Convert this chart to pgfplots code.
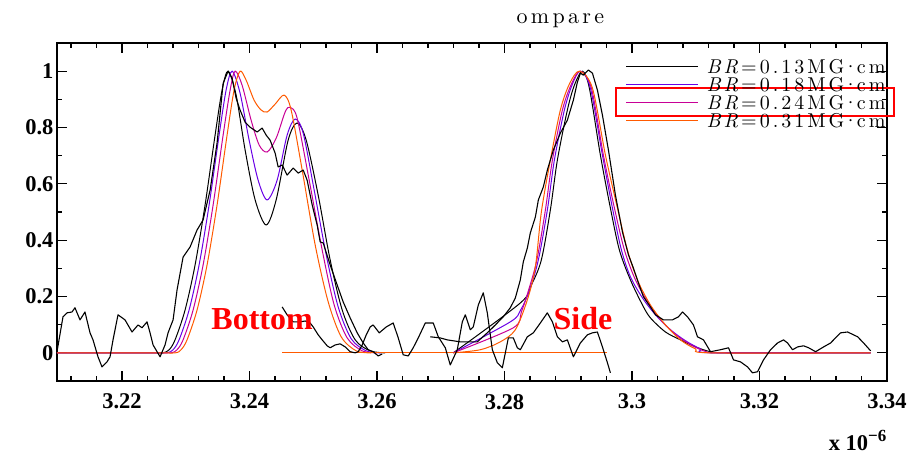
\documentclass[border=0pt]{standalone}
\usepackage{fontspec}
\setmainfont{Liberation Serif}
\newfontfamily\lmsp{lmroman10-regular.otf}[LetterSpace=15, ItalicFont=lmroman10-italic.otf]
\usepackage{pgfplots}
\pgfplotsset{compat=1.18}
\definecolor{cpurple}{RGB}{105,0,230}
\definecolor{cmagenta}{RGB}{200,0,150}
\definecolor{corange}{RGB}{255,90,0}
\newcommand{\mgcm}{MG\kern-1.5pt·\kern-1.5pt cm}
\begin{document}
\begin{tikzpicture}
\begin{axis}[
  scale only axis, width=830pt, height=338pt,
  xmin=3.2098, xmax=3.34, ymin=-0.1, ymax=1.1,
  clip=false,
  axis line style={line width=2pt},
  tick align=inside, major tick length=10pt, minor tick length=5pt,
  every tick/.style={black, line width=1.3pt},
  xtick={3.22,3.24,3.26,3.28,3.30,3.32,3.34},
  xticklabels={3.22,3.24,3.26,3.28,3.3,3.32,3.34},
  minor xtick={3.212,3.216,3.224,3.228,3.232,3.236,3.244,3.248,3.252,3.256,3.264,3.268,3.272,3.276,3.284,3.288,3.292,3.296,3.304,3.308,3.312,3.316,3.324,3.328,3.332,3.336},
  ytick={0,0.2,0.4,0.6,0.8,1},
  minor ytick={0.1,0.3,0.5,0.7,0.9},
  scaled x ticks=false,
  /pgf/number format/assume math mode=true,
  tick label style={font=\fontsize{22.5}{22.5}\selectfont\bfseries},
  xticklabel style={yshift=-9.5pt},
  legend style={at={(axis cs:3.29896,1.0426)}, anchor=north west, draw=none, fill=none,
    inner sep=0pt, row sep=2.4pt, column sep=8pt,
    font=\lmsp\fontsize{20}{20}\selectfont, nodes={inner sep=0pt, anchor=base west}},
  legend cell align=left,
  legend image code/.code={\draw[#1] (0pt,6.8pt) -- (72pt,6.8pt);},
]
% bottom models
\addplot[black, line width=1pt, smooth, tension=0.5] coordinates {
(3.2098,0) (3.225,0) (3.22644,0) (3.2274,0.011) (3.22832,0.046) (3.22989,0.152) (3.23146,0.312) (3.23303,0.525) (3.2346,0.773) (3.2357,0.933) (3.23664,1.0) (3.2379,0.915) (3.23931,0.72) (3.24088,0.543) (3.24261,0.454) (3.24418,0.543) (3.24606,0.755) (3.24747,0.816) (3.24889,0.755) (3.25077,0.56) (3.25265,0.33) (3.25454,0.152) (3.25658,0.046) (3.25893,0.007) (3.26129,0)};
\addlegendentry{\textit{BR}=0.13\mgcm}
\addplot[cpurple, line width=1pt, smooth, tension=0.5] coordinates {
(3.2098,0) (3.225,0) (3.22706,0) (3.22801,0.011) (3.22895,0.046) (3.23052,0.152) (3.23209,0.312) (3.23366,0.525) (3.23523,0.773) (3.23633,0.933) (3.23727,1.0) (3.23852,0.922) (3.23994,0.755) (3.24135,0.613) (3.24276,0.543) (3.24433,0.613) (3.2459,0.773) (3.24716,0.830) (3.24842,0.780) (3.25014,0.578) (3.25203,0.348) (3.25391,0.163) (3.25595,0.050) (3.25831,0.007) (3.26066,0)};
\addlegendentry{\textit{BR}=0.18\mgcm}
\addplot[cmagenta, line width=1pt, smooth, tension=0.5] coordinates {
(3.2098,0) (3.225,0) (3.22769,0) (3.22863,0.011) (3.22958,0.046) (3.23115,0.152) (3.23272,0.312) (3.23429,0.525) (3.23586,0.773) (3.23696,0.933) (3.23774,1.0) (3.23884,0.950) (3.24025,0.826) (3.24151,0.738) (3.24276,0.713) (3.24418,0.762) (3.24559,0.855) (3.24637,0.872) (3.24747,0.833) (3.24936,0.613) (3.25140,0.365) (3.25328,0.170) (3.25532,0.053) (3.25768,0.007) (3.26003,0)};
\addlegendentry{\textit{BR}=0.24\mgcm}
\addplot[corange, line width=1pt, smooth, tension=0.5] coordinates {
(3.2098,0) (3.225,0) (3.22832,0) (3.22926,0.011) (3.2302,0.046) (3.23177,0.152) (3.23334,0.312) (3.23491,0.525) (3.23648,0.773) (3.23758,0.933) (3.23852,1.0) (3.23947,0.968) (3.24072,0.897) (3.24182,0.862) (3.24276,0.855) (3.24402,0.883) (3.24543,0.915) (3.24653,0.862) (3.24826,0.649) (3.2503,0.383) (3.25234,0.181) (3.25438,0.057) (3.25674,0.007) (3.25909,0)};
\addlegendentry{\textit{BR}=0.31\mgcm}
% middle window, flat models
\addplot[black, line width=1pt, forget plot] coordinates {(3.24512,0) (3.29614,0)};
\addplot[cpurple, line width=1pt, forget plot] coordinates {(3.24512,0) (3.29614,0)};
\addplot[cmagenta, line width=1pt, forget plot] coordinates {(3.24512,0) (3.29614,0)};
\addplot[corange, line width=1pt, forget plot] coordinates {(3.24512,0) (3.29614,0)};
% side models
\addplot[black, line width=1pt, smooth, tension=0.5, forget plot] coordinates {
(3.27197,0) (3.28248,0.177) (3.28421,0.241) (3.28578,0.330) (3.28719,0.507) (3.28829,0.684) (3.28986,0.862) (3.29096,0.950) (3.29222,1.0) (3.29331,0.940) (3.29504,0.702) (3.29661,0.514) (3.29802,0.365) (3.29975,0.259) (3.30164,0.170) (3.30289,0.124) (3.30525,0.074) (3.3076,0.046) (3.30996,0.021) (3.31231,0.004) (3.31467,0) (3.33743,0)};
\addplot[cpurple, line width=1pt, smooth, tension=0.5, forget plot] coordinates {
(3.27197,0) (3.28091,0.110) (3.28248,0.150) (3.28389,0.220) (3.28531,0.330) (3.28672,0.507) (3.28782,0.684) (3.28939,0.862) (3.29065,0.954) (3.2919,1.0) (3.29347,0.940) (3.29536,0.702) (3.29693,0.514) (3.29834,0.365) (3.29975,0.270) (3.30164,0.195) (3.30368,0.135) (3.30603,0.082) (3.30839,0.043) (3.31074,0.014) (3.31262,0) (3.33743,0)};
\addplot[cmagenta, line width=1pt, smooth, tension=0.5, forget plot] coordinates {
(3.27197,0) (3.28138,0.089) (3.28264,0.145) (3.28374,0.220) (3.28508,0.330) (3.28641,0.507) (3.28751,0.684) (3.28908,0.862) (3.29049,0.954) (3.2919,1.0) (3.29363,0.940) (3.29551,0.702) (3.29724,0.514) (3.29881,0.365) (3.30054,0.259) (3.30258,0.177) (3.30478,0.110) (3.30713,0.060) (3.30949,0.025) (3.31168,0.004) (3.31388,0) (3.33743,0)};
\addplot[corange, line width=1pt, smooth, tension=0.5, forget plot] coordinates {
(3.27197,0) (3.2762,0.011) (3.27934,0.039) (3.2817,0.082) (3.28358,0.188) (3.28484,0.305) (3.28578,0.50) (3.28719,0.684) (3.28876,0.862) (3.29017,0.954) (3.29174,1.0) (3.29379,0.940) (3.29583,0.702) (3.29771,0.514) (3.29928,0.365) (3.30085,0.259) (3.30289,0.170) (3.30525,0.099) (3.3076,0.046) (3.30996,0.014) (3.31231,0) (3.33743,0)};
% measured, bottom window
\addplot[black, line width=1.1pt, line join=round, forget plot] coordinates {
(3.2098,0.004) (3.21074,0.128) (3.21137,0.142) (3.21215,0.145) (3.21262,0.160) (3.21341,0.117) (3.21419,0.145) (3.21498,0.071) (3.21545,0.046) (3.21623,-0.014) (3.21686,-0.050) (3.21765,-0.032) (3.21812,-0.014) (3.21859,0.046) (3.21937,0.135) (3.22047,0.117) (3.22157,0.074) (3.22251,0.099) (3.22314,0.089) (3.22392,0.110) (3.2244,0.071) (3.22487,0.028) (3.22597,-0.014) (3.22675,0.028) (3.22722,0.071) (3.22801,0.117) (3.22863,0.223) (3.22958,0.340) (3.23068,0.376) (3.23177,0.436) (3.23272,0.472) (3.23382,0.578) (3.23491,0.745) (3.23586,0.957) (3.23664,1.0) (3.23727,0.975) (3.2379,0.904) (3.23852,0.862) (3.23931,0.819) (3.24009,0.801) (3.2412,0.784) (3.24198,0.798) (3.24261,0.773) (3.24323,0.755) (3.24402,0.709) (3.24449,0.660) (3.24512,0.667) (3.2459,0.631) (3.24685,0.656) (3.24763,0.638) (3.24842,0.649) (3.24904,0.613) (3.24983,0.525) (3.25061,0.454) (3.25108,0.394) (3.25156,0.390) (3.25265,0.312) (3.25375,0.241) (3.25469,0.181) (3.25579,0.124) (3.25689,0.071) (3.25783,0.035) (3.25862,0.011) (3.2594,0.004) (3.26019,-0.011) (3.26082,-0.004)};
% measured, middle window
\addplot[black, line width=1.1pt, line join=round, forget plot] coordinates {
(3.24512,0.163) (3.2459,0.135) (3.24685,0.110) (3.24794,0.110) (3.24873,0.113) (3.24951,0.106) (3.24999,0.092) (3.25077,0.064) (3.2514,0.046) (3.25218,0.025) (3.25265,0.018) (3.25344,0.028) (3.25422,0.032) (3.25501,0.021) (3.25579,0.004) (3.25658,0) (3.25705,0.004) (3.25768,0.028) (3.25831,0.064) (3.25893,0.092) (3.2594,0.099) (3.26035,0.071) (3.26145,0.092) (3.26254,0.106) (3.26333,0.053) (3.26411,-0.007) (3.2649,-0.011) (3.26568,0.018) (3.26647,0.053) (3.26757,0.106) (3.26882,0.106) (3.26961,0.057) (3.27071,0.018) (3.27149,-0.043) (3.27259,0.011) (3.27338,0.110) (3.27385,0.135) (3.27463,0.082) (3.2751,0.092) (3.27589,0.170) (3.27667,0.213) (3.2773,0.142) (3.27809,0.011) (3.27887,-0.035) (3.27966,-0.053) (3.28013,0) (3.2806,0.053) (3.28138,0.053) (3.28201,0.018) (3.28248,0.011) (3.28358,0.057) (3.28452,0.071) (3.28562,0.106) (3.28672,0.142) (3.28751,0.110) (3.28829,0.057) (3.28908,0.039) (3.28986,0.046) (3.2908,-0.014) (3.2919,0.035) (3.293,0.064) (3.29379,0.071) (3.29457,0.074) (3.29536,0.021) (3.29614,-0.035) (3.29661,-0.071)};
% measured, side window
\addplot[black, line width=1.1pt, line join=round, forget plot] coordinates {
(3.26835,0.057) (3.26992,0.053) (3.27102,0.046) (3.27306,0.039) (3.27573,0.039) (3.2773,0.071) (3.27856,0.099) (3.27981,0.128) (3.28091,0.160) (3.2817,0.195) (3.28248,0.259) (3.28295,0.323) (3.28358,0.372) (3.28405,0.426) (3.28484,0.482) (3.28531,0.543) (3.28609,0.589) (3.28672,0.649) (3.28766,0.720) (3.28876,0.780) (3.28986,0.826) (3.2908,0.897) (3.29143,0.961) (3.2919,0.993) (3.29237,0.986) (3.29316,1.004) (3.29379,0.993) (3.29457,0.933) (3.29536,0.844) (3.2963,0.720) (3.2974,0.560) (3.2985,0.429) (3.29944,0.348) (3.30022,0.301) (3.30101,0.248) (3.30179,0.199) (3.30289,0.163) (3.30368,0.135) (3.30493,0.117) (3.30635,0.117) (3.30729,0.128) (3.30792,0.145) (3.3087,0.128) (3.30964,0.099) (3.31027,0.057) (3.31121,0.046) (3.31231,0.004) (3.31388,0.011) (3.31514,0.018) (3.31592,-0.025) (3.31702,-0.032) (3.31812,-0.050) (3.3189,-0.071) (3.31969,-0.067) (3.32063,-0.025) (3.32173,0.011) (3.32283,0.035) (3.32377,0.046) (3.3244,0.035) (3.32518,0.011) (3.32597,0.021) (3.32691,0.025) (3.3277,0.018) (3.3288,0.004) (3.33005,0.021) (3.33115,0.035) (3.33162,0.046) (3.33272,0.071) (3.33382,0.074) (3.33539,0.057) (3.33633,0.035) (3.33743,0.007)};
% annotations
\node[text=red, font=\fontsize{32}{32}\selectfont\bfseries, anchor=base] at (axis cs:3.24198,0.0816) {Bottom};
\node[text=red, font=\fontsize{32}{32}\selectfont\bfseries, anchor=base] at (axis cs:3.2923,0.0816) {Side};
\node[font=\lmsp\fontsize{22}{22}\selectfont, anchor=base] at (axis cs:3.28876,1.170) {ompare};
\node[font=\fontsize{22.5}{22.5}\selectfont\bfseries, anchor=base] at (axis cs:3.33539,-0.3475) {x 10\raisebox{9pt}{\fontsize{17}{17}\selectfont −6}};
\draw[red, line width=2pt] (axis cs:3.29755,0.8404) rectangle (axis cs:3.34104,0.9397);
\end{axis}
\pgfresetboundingbox
\path[use as bounding box] (-57pt,-75pt) rectangle (853pt,381pt);
\end{tikzpicture}
\end{document}
